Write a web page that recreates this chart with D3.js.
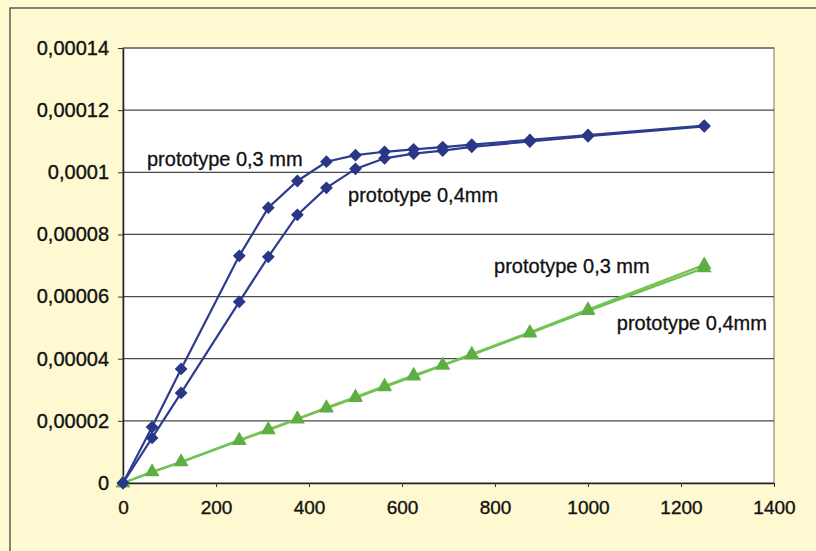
<!DOCTYPE html>
<html>
<head>
<meta charset="utf-8">
<script src="https://cdn.jsdelivr.net/npm/d3@7"></script>
<style>
  html, body { margin: 0; padding: 0; background: #FEFAD2; }
  svg { display: block; }
</style>
</head>
<body>
<svg id="chart" width="816" height="551"></svg>
<script>
// ---- data ----
const xValues = [0, 62.5, 125, 250, 312.5, 375, 437.5, 500, 562.5, 625, 687.5, 750, 875, 1000, 1250];
const blue03 = [0, 1.80e-5, 3.67e-5, 7.31e-5, 8.86e-5, 9.72e-5, 1.034e-4, 1.055e-4, 1.066e-4, 1.074e-4, 1.081e-4, 1.089e-4, 1.104e-4, 1.120e-4, 1.150e-4];
const blue04 = [0, 1.45e-5, 2.90e-5, 5.83e-5, 7.28e-5, 8.63e-5, 9.50e-5, 1.011e-4, 1.045e-4, 1.060e-4, 1.070e-4, 1.082e-4, 1.099e-4, 1.116e-4, 1.148e-4];
const green03 = [0, 0.36e-5, 0.68e-5, 1.38e-5, 1.73e-5, 2.07e-5, 2.43e-5, 2.77e-5, 3.12e-5, 3.47e-5, 3.80e-5, 4.15e-5, 4.85e-5, 5.58e-5, 7.02e-5];
const green04 = [0, 0.35e-5, 0.67e-5, 1.36e-5, 1.70e-5, 2.05e-5, 2.40e-5, 2.74e-5, 3.09e-5, 3.43e-5, 3.78e-5, 4.12e-5, 4.82e-5, 5.54e-5, 6.92e-5];
const xTicks = [0, 200, 400, 600, 800, 1000, 1200, 1400];
const yTicks = [0, 0.00002, 0.00004, 0.00006, 0.00008, 0.0001, 0.00012, 0.00014];
const yTickLabels = ["0", "0,00002", "0,00004", "0,00006", "0,00008", "0,0001", "0,00012", "0,00014"];
const labelTexts = ["prototype 0,3 mm", "prototype 0,4mm", "prototype 0,3 mm", "prototype 0,4mm"];

// ---- layout ----
const svg = d3.select("#chart");
const L = 123, R = 774, T = 48, B = 483;
const x = d3.scaleLinear().domain([0, 1400]).range([L, R]);
const y = d3.scaleLinear().domain([0, 0.00014]).range([B, T]);
const font = "'Liberation Sans', Arial, sans-serif";

// outer frame (top + left visible)
svg.append("rect").attr("x", 10).attr("y", 8).attr("width", 840).attr("height", 600)
  .attr("fill", "#FEF9D0").attr("stroke", "#444").attr("stroke-width", 1.3);

// plot area
svg.append("rect").attr("x", L).attr("y", T).attr("width", R - L).attr("height", B - T)
  .attr("fill", "#ffffff").attr("stroke", "#8a8a8a").attr("stroke-width", 1.2);

// gridlines
svg.append("g").selectAll("line").data(yTicks.filter(d => d > 0)).join("line")
  .attr("x1", L).attr("x2", R).attr("y1", d => y(d)).attr("y2", d => y(d))
  .attr("stroke", "#4a4a4a").attr("stroke-width", 1.2);

// y axis
const yAxis = d3.axisLeft(y).tickValues(yTicks).tickSizeOuter(0).tickSizeInner(5).tickPadding(9)
  .tickFormat((d, i) => yTickLabels[i]);
const gy = svg.append("g").attr("transform", `translate(${L},0)`).call(yAxis);
gy.select(".domain").attr("stroke", "#222").attr("stroke-width", 1.5);
gy.selectAll(".tick line").attr("stroke", "#333");
gy.selectAll("text").attr("font-family", font).attr("font-size", 20).attr("fill", "#111")
  .attr("stroke", "#111").attr("stroke-width", 0.35);

// x axis
const xAxis = d3.axisBottom(x).tickValues(xTicks).tickSizeOuter(0).tickSizeInner(4).tickPadding(14)
  .tickFormat(d3.format("d"));
const gx = svg.append("g").attr("transform", `translate(0,${B})`).call(xAxis);
gx.select(".domain").attr("stroke", "#222").attr("stroke-width", 1.5);
gx.selectAll(".tick line").attr("stroke", "#333");
gx.selectAll("text").attr("font-family", font).attr("font-size", 19).attr("fill", "#111")
  .attr("stroke", "#111").attr("stroke-width", 0.35);

// series
const series = [
  { vals: green04, line: "#6CBF4E", mark: "#5FAE43", sym: d3.symbolTriangle, size: 90, rot: 0 },
  { vals: green03, line: "#74C455", mark: "#5FAE43", sym: d3.symbolTriangle, size: 90, rot: 0 },
  { vals: blue04, line: "#2E3B8E", mark: "#2A3786", sym: d3.symbolSquare, size: 82, rot: 45 },
  { vals: blue03, line: "#2E3B8E", mark: "#2A3786", sym: d3.symbolSquare, size: 82, rot: 45 }
];
const lineGen = d3.line().x(d => x(d[0])).y(d => y(d[1]));
series.forEach(s => {
  const pts = xValues.map((xv, i) => [xv, s.vals[i]]);
  svg.append("path").datum(pts).attr("d", lineGen)
    .attr("fill", "none").attr("stroke", s.line).attr("stroke-width", 2.2);
  svg.append("g").selectAll("path").data(pts).join("path")
    .attr("transform", d => `translate(${x(d[0])},${y(d[1])}) rotate(${s.rot})`)
    .attr("d", d3.symbol().type(s.sym).size(s.size))
    .attr("fill", s.mark);
});

// annotations (data-space anchors)
const labelPos = [[51.6, 1.021e-4], [484, 0.905e-4], [798, 0.676e-4], [1062, 0.493e-4]];
svg.append("g").selectAll("text").data(labelTexts).join("text")
  .attr("x", (d, i) => x(labelPos[i][0])).attr("y", (d, i) => y(labelPos[i][1]))
  .attr("font-family", font).attr("font-size", 20).attr("fill", "#111")
  .attr("stroke", "#111").attr("stroke-width", 0.3)
  .text(d => d);
</script>
</body>
</html>
